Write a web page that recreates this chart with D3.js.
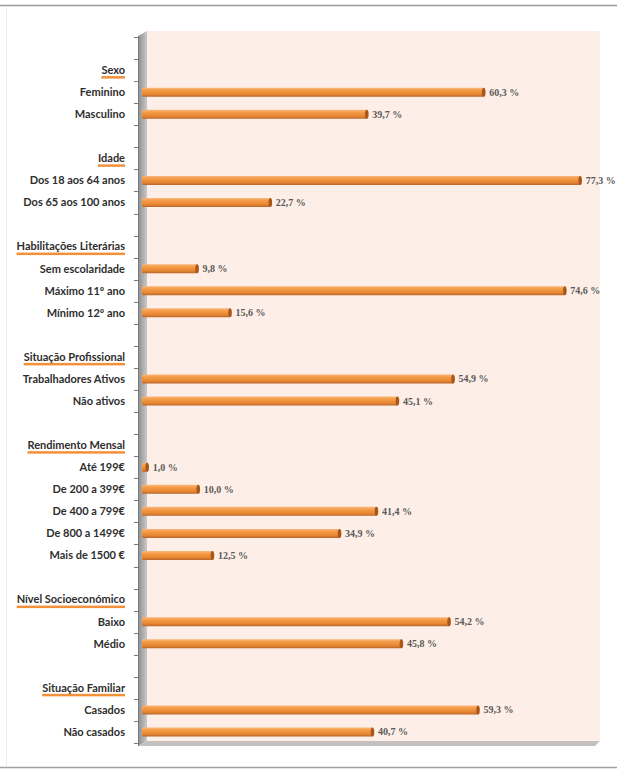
<!DOCTYPE html>
<html>
<head>
<meta charset="utf-8">
<script src="https://cdn.jsdelivr.net/npm/d3@7"></script>
<style>
  html, body { margin: 0; padding: 0; background: #fff; }
  svg { display: block; }
</style>
</head>
<body>
<svg id="chart"></svg>
<script>
// Group headers and the categories that sit under each one
const groupNames = ["Sexo", "Idade", "Habilitações Literárias", "Situação Profissional",
  "Rendimento Mensal", "Nível Socioeconómico", "Situação Familiar"];
const groupSizes = [2, 2, 3, 2, 5, 2, 2];
const categoryLabels = [
  "Feminino", "Masculino",
  "Dos 18 aos 64 anos", "Dos 65 aos 100 anos",
  "Sem escolaridade", "Máximo 11º ano", "Mínimo 12º ano",
  "Trabalhadores Ativos", "Não ativos",
  "Até 199€", "De 200 a 399€", "De 400 a 799€", "De 800 a 1499€", "Mais de 1500 €",
  "Baixo", "Médio",
  "Casados", "Não casados"
];
const values = [
  60.3, 39.7,
  77.3, 22.7,
  9.8, 74.6, 15.6,
  54.9, 45.1,
  1.0, 10.0, 41.4, 34.9, 12.5,
  54.2, 45.8,
  59.3, 40.7
];

const width = 617, height = 774;
const svg = d3.select("#chart").attr("width", width).attr("height", height);

// Build the row list: blank spacer, header, then categories for each group
const rows = [];
let k = 0;
groupNames.forEach((g, gi) => {
  rows.push({ id: "blank" + gi, type: "blank" });
  rows.push({ id: "head" + gi, type: "header", label: g });
  for (let j = 0; j < groupSizes[gi]; j++) {
    rows.push({ id: "cat" + k, type: "cat", label: categoryLabels[k], value: values[k] });
    k++;
  }
});

const y = d3.scaleBand().domain(rows.map(d => d.id)).range([37, 743]);
const x = d3.scaleLinear().domain([0, 80]).range([142, 596]);

// Outer frame: strong top/bottom rules, faint sides
svg.append("line").attr("x1", 0).attr("x2", width).attr("y1", 5.5).attr("y2", 5.5)
  .attr("stroke", "#9a9a9a").attr("stroke-width", 1.5);
svg.append("line").attr("x1", 0).attr("x2", width).attr("y1", 767.5).attr("y2", 767.5)
  .attr("stroke", "#a0a0a0").attr("stroke-width", 1.5);
svg.append("line").attr("x1", 6.5).attr("x2", 6.5).attr("y1", 6).attr("y2", 767)
  .attr("stroke", "#ececec").attr("stroke-width", 1);

const defs = svg.append("defs");
const wallGrad = defs.append("linearGradient").attr("id", "wall")
  .attr("x1", "0%").attr("x2", "100%").attr("y1", "0%").attr("y2", "0%");
wallGrad.append("stop").attr("offset", "0%").attr("stop-color", "#8c8c8c");
wallGrad.append("stop").attr("offset", "100%").attr("stop-color", "#c9c9c9");

const barGrad = defs.append("linearGradient").attr("id", "bar")
  .attr("x1", "0%").attr("x2", "0%").attr("y1", "0%").attr("y2", "100%");
barGrad.append("stop").attr("offset", "0%").attr("stop-color", "#f8b77c");
barGrad.append("stop").attr("offset", "30%").attr("stop-color", "#f59b46");
barGrad.append("stop").attr("offset", "75%").attr("stop-color", "#e58532");
barGrad.append("stop").attr("offset", "100%").attr("stop-color", "#b8652a");

// Back wall, side wall and floor of the 3D plot
const plotTop = 31, plotBottom = 741;
svg.append("rect")
  .attr("x", x(0) + 5).attr("y", plotTop)
  .attr("width", 600 - (x(0) + 5)).attr("height", plotBottom - plotTop)
  .attr("fill", "#fdefe7");

svg.append("polygon")
  .attr("points", [[138, plotTop + 5], [147, plotTop], [147, plotBottom], [138, plotBottom + 5]].join(" "))
  .attr("fill", "url(#wall)");

svg.append("polygon")
  .attr("points", [[138, plotBottom + 5], [147, plotBottom], [600, plotBottom], [595, plotBottom + 5]].join(" "))
  .attr("fill", "#c4c0bd");

// Axis line and ticks at band boundaries
svg.append("line")
  .attr("x1", 138.5).attr("x2", 138.5)
  .attr("y1", plotTop + 5).attr("y2", plotBottom + 5)
  .attr("stroke", "#7a7a7a").attr("stroke-width", 1);

const tickYs = rows.map(d => y(d.id)).concat([y.range()[1]]);
svg.append("g").selectAll("line")
  .data(tickYs)
  .join("line")
  .attr("x1", 134).attr("x2", 139)
  .attr("y1", d => Math.round(d) + 0.5).attr("y2", d => Math.round(d) + 0.5)
  .attr("stroke", "#7a7a7a");

// Bars
const barH = 9;
const cats = rows.filter(d => d.type === "cat");
const bars = svg.append("g").selectAll("g")
  .data(cats)
  .join("g")
  .attr("transform", d => `translate(0, ${y(d.id) + y.bandwidth() / 2 - barH / 2})`);

bars.append("rect")
  .attr("x", x(0)).attr("y", 0)
  .attr("width", d => Math.max(2, x(d.value) - x(0)))
  .attr("height", barH)
  .attr("rx", 1.5)
  .attr("fill", "url(#bar)");

bars.append("ellipse")
  .attr("cx", d => x(d.value) - 0.5)
  .attr("cy", barH / 2)
  .attr("rx", 1.8).attr("ry", barH / 2)
  .attr("fill", "#a9561a");

bars.append("text")
  .attr("x", d => x(d.value) + 5)
  .attr("y", barH / 2)
  .attr("dy", "0.35em")
  .attr("font-family", "Liberation Serif, serif")
  .attr("font-size", 10)
  .attr("font-weight", "bold")
  .attr("fill", "#5a5a5a")
  .text(d => d.value.toFixed(1).replace(".", ",") + " %");

// Category and header labels
const labelX = 125;
const labels = svg.append("g").selectAll("text")
  .data(rows.filter(d => d.type !== "blank"))
  .join("text")
  .attr("x", labelX)
  .attr("y", d => y(d.id) + y.bandwidth() / 2)
  .attr("dy", "0.35em")
  .attr("text-anchor", "end")
  .attr("font-family", "Lato, sans-serif")
  .attr("font-size", 11)
  .attr("font-weight", "bold")
  .attr("fill", "#2e2e2e")
  .text(d => d.label);

// Orange underline under each group header
labels.filter(d => d.type === "header").each(function(d) {
  const w = this.getComputedTextLength();
  svg.append("rect")
    .attr("x", labelX - w)
    .attr("y", y(d.id) + y.bandwidth() / 2 + 6)
    .attr("width", w)
    .attr("height", 2.5)
    .attr("fill", "#f3913b");
});
</script>
</body>
</html>
